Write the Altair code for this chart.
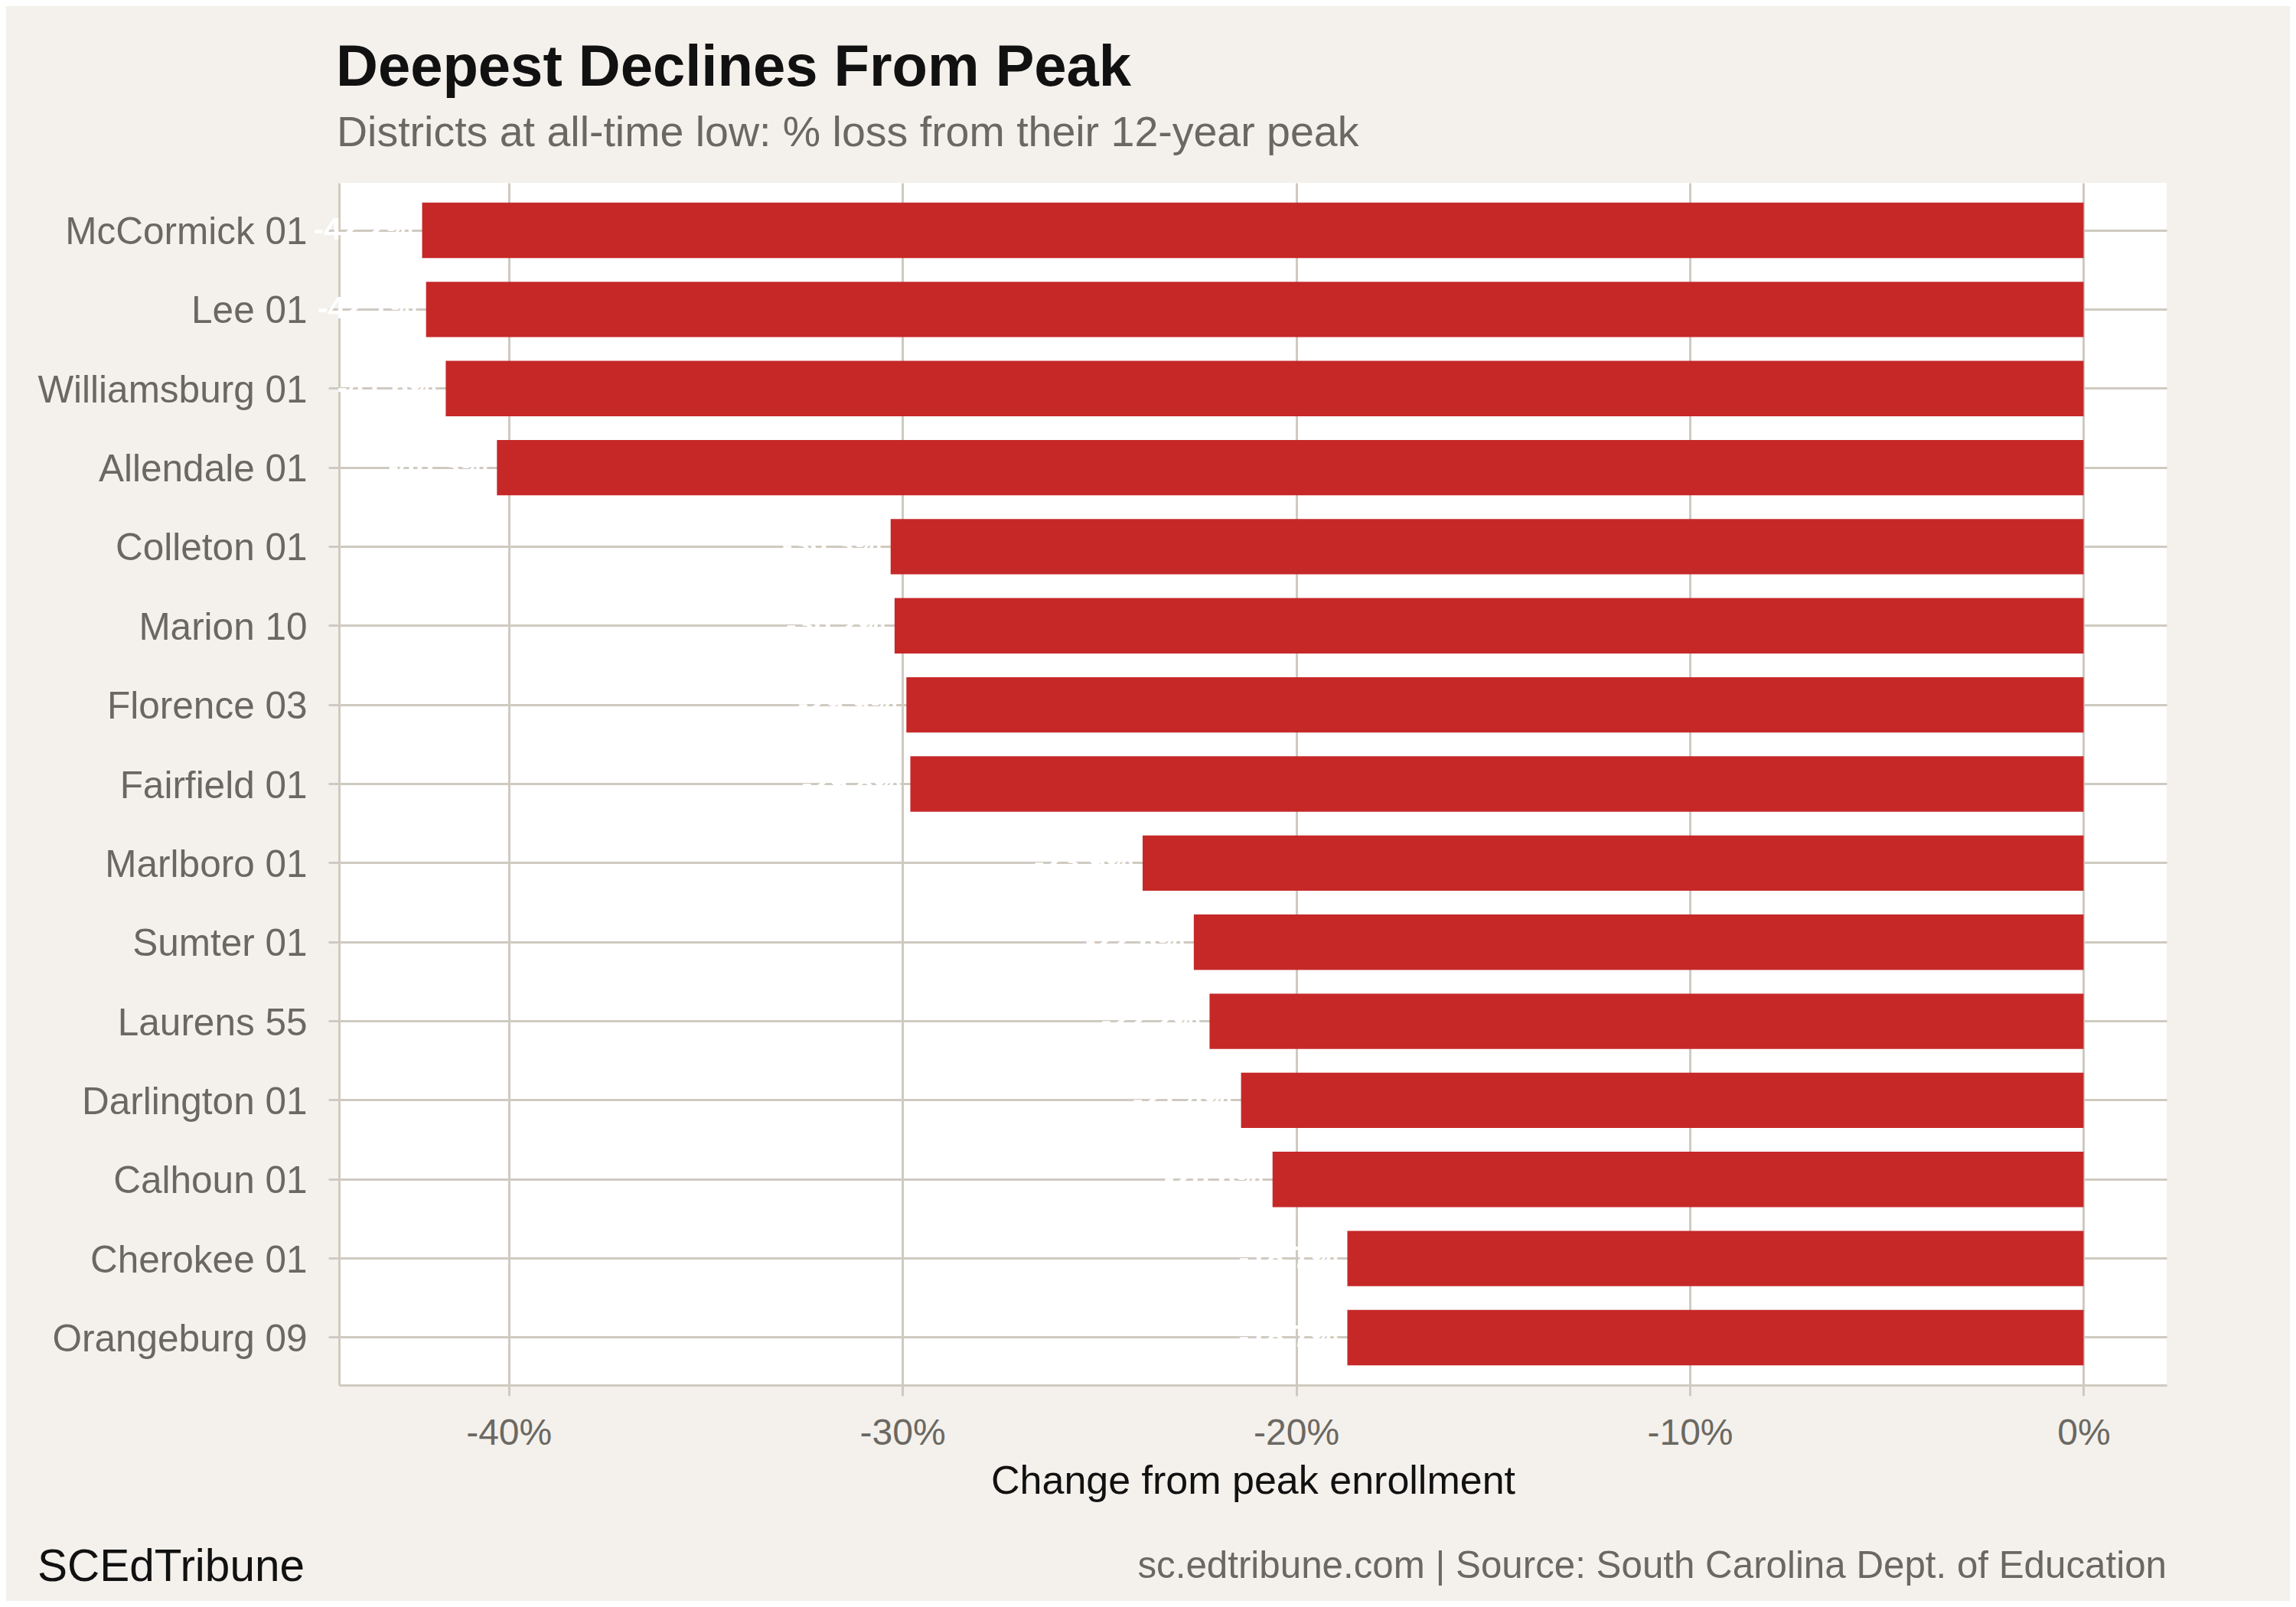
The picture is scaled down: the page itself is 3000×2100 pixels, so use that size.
import altair as alt
import pandas as pd

# ---- data ----
districts = ["McCormick 01", "Lee 01", "Williamsburg 01", "Allendale 01",
             "Colleton 01", "Marion 10", "Florence 03", "Fairfield 01",
             "Marlboro 01", "Sumter 01", "Laurens 55", "Darlington 01",
             "Calhoun 01", "Cherokee 01", "Orangeburg 09"]
pct_change = [-42.2, -42.1, -41.6, -40.3,
              -30.3, -30.2, -29.9, -29.8,
              -23.9, -22.6, -22.2, -21.4,
              -20.6, -18.7, -18.7]
x_ticks = [-40, -30, -20, -10, 0]

TITLE = "Deepest Declines From Peak"
SUBTITLE = "Districts at all-time low: % loss from their 12-year peak"
X_TITLE = "Change from peak enrollment"
BRAND = "SCEdTribune"
SOURCE = "sc.edtribune.com | Source: South Carolina Dept. of Education"

FONT = "Liberation Sans"
BAR_RED = "#c62828"
GRID = "#cfcac1"
GREY_TXT = "#6b6862"
BG = "#f4f1ec"

W, H = 2388, 1571

df = pd.DataFrame({"district": districts, "change": pct_change})
df["label"] = [f"{v:.1f}%" for v in pct_change]

x_enc = alt.X("change:Q",
              scale=alt.Scale(domain=[-44.31, 2.11], nice=False, zero=False),
              axis=alt.Axis(values=x_ticks, labelExpr="datum.value + '%'",
                            labelPadding=25, title=X_TITLE,
                            titleY=141, titleBaseline="alphabetic",
                            grid=True))
y_enc = alt.Y("district:N", sort=districts,
              scale=alt.Scale(paddingInner=0.3, paddingOuter=0.25),
              axis=alt.Axis(title=None, grid=True, bandPosition=0.5,
                            labelPadding=28, labelLimit=1000,
                            labelFontSize=49.5, labelOffset=3))

base = alt.Chart(df)

bars = base.mark_bar(color=BAR_RED).encode(
    x=x_enc,
    x2=alt.datum(0),
    y=y_enc,
)

labels = base.mark_text(align="right", baseline="middle", dx=-12,
                        color="white", font=FONT, fontSize=41,
                        fontWeight="bold").encode(
    x="change:Q",
    y=alt.Y("district:N", sort=districts),
    text="label:N",
)

def annot(txt, x, y, size, color, weight="normal", align="left"):
    return alt.Chart(pd.DataFrame({"t": [txt]})).mark_text(
        align=align, baseline="alphabetic", font=FONT, fontSize=size,
        fontWeight=weight, color=color
    ).encode(x=alt.value(x), y=alt.value(y), text="t:N")

title_t = annot(TITLE, -4, -127, 76, "#111111", weight="bold")
sub_t = annot(SUBTITLE, -3, -48, 55.5, GREY_TXT)
brand_t = annot(BRAND, -394, 1827, 58.5, "#111111")
source_t = annot(SOURCE, W, 1823, 49.3, GREY_TXT, align="right")

chart = alt.layer(bars, labels, title_t, sub_t, brand_t, source_t).properties(
    width=W,
    height=H,
    padding={"left": 435, "top": 231, "right": 161, "bottom": 282},
    autosize=alt.AutoSizeParams(type="none"),
    background=BG,
).configure_view(
    fill="white",
    strokeWidth=0,
).configure_axis(
    gridColor=GRID,
    gridWidth=3,
    domainColor=GRID,
    domainWidth=3,
    tickColor=GRID,
    tickWidth=3,
    tickSize=14,
    labelFont=FONT,
    labelFontSize=48,
    labelColor=GREY_TXT,
    titleFont=FONT,
    titleFontSize=52,
    titleColor="#111111",
    titleFontWeight="normal",
)

chart.save("out.html", embed_options={"renderer": "svg", "actions": False})
